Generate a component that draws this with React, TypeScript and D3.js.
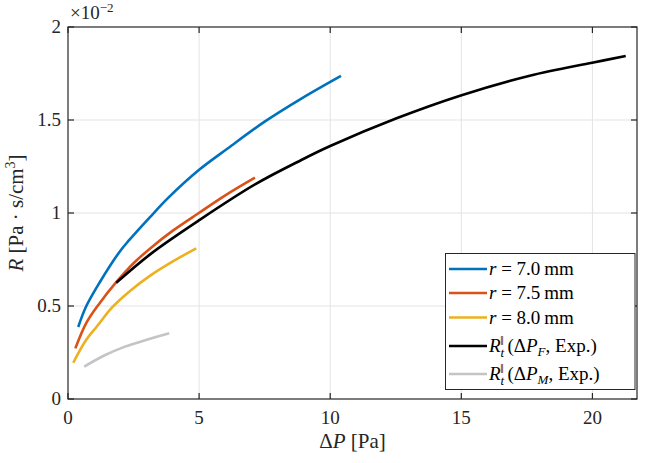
import * as d3 from "d3";
import { useEffect, useRef } from "react";

// Values (x: ΔP in Pa, y: R in 1e-2 Pa·s/cm³)
const blueX = [0.39, 0.69, 1.2, 1.97, 2.34, 3.11, 3.81, 4.99, 6.1, 7.5, 8.9, 10.41];
const blueY = [0.387, 0.497, 0.625, 0.792, 0.855, 0.975, 1.08, 1.231, 1.348, 1.491, 1.615, 1.737];
const redX = [0.28, 0.69, 1.2, 1.84, 2.5, 3.18, 4.0, 4.99, 6.0, 7.13];
const redY = [0.272, 0.407, 0.514, 0.628, 0.73, 0.815, 0.905, 1.0, 1.095, 1.19];
const yellowX = [0.2, 0.69, 1.1, 1.7, 2.4, 3.15, 4.0, 4.89];
const yellowY = [0.195, 0.317, 0.39, 0.495, 0.585, 0.665, 0.74, 0.81];
const blackX = [1.84, 3.18, 4.99, 7.15, 8.9, 10.0, 12.53, 14.98, 17.61, 19.99, 21.27];
const blackY = [0.625, 0.783, 0.96, 1.155, 1.285, 1.36, 1.509, 1.632, 1.738, 1.808, 1.844];
const grayX = [0.62, 1.4, 2.2, 3.0, 3.86];
const grayY = [0.174, 0.235, 0.283, 0.318, 0.353];

const xTicks = [0, 5, 10, 15, 20];
const yTicks = [0, 0.5, 1, 1.5, 2];
const seriesColors = ["#0072BD", "#D95319", "#EDB120", "#000000", "#c4c4c4"];
const radii = ["7.0", "7.5", "8.0"];
const expSubs = ["F", "M"];

const App = () => {
  const ref = useRef<SVGSVGElement>(null);

  useEffect(() => {
    if (ref && ref.current) ref.current.innerHTML = "";

    const width = 646;
    const height = 463;
    const m = { left: 68, top: 27, right: 637, bottom: 399 };
    const font = "'Liberation Serif', 'DejaVu Serif', serif";
    const axisColor = "#262626";

    const x = d3.scaleLinear().domain([0, 21.7]).range([m.left, m.right]);
    const y = d3.scaleLinear().domain([0, 2]).range([m.bottom, m.top]);

    const svg = d3.select(ref.current)
      .attr("width", width)
      .attr("height", height)
      .attr("viewBox", [0, 0, width, height])
      .attr("font-family", font);

    svg.append("rect").attr("width", width).attr("height", height).attr("fill", "#fff");

    // grid
    const grid = svg.append("g").attr("stroke", "#e3e3e3").attr("stroke-width", 1);
    grid.selectAll("line.gx")
      .data(xTicks.slice(1))
      .join("line")
        .attr("class", "gx")
        .attr("x1", d => x(d)).attr("x2", d => x(d))
        .attr("y1", m.top).attr("y2", m.bottom);
    grid.selectAll("line.gy")
      .data(yTicks.slice(1, -1))
      .join("line")
        .attr("class", "gy")
        .attr("y1", d => y(d)).attr("y2", d => y(d))
        .attr("x1", m.left).attr("x2", m.right);

    // series
    const series = [
      [blueX, blueY], [redX, redY], [yellowX, yellowY], [blackX, blackY], [grayX, grayY],
    ];
    const line = d3.line<[number, number]>()
      .x(d => x(d[0]))
      .y(d => y(d[1]))
      .curve(d3.curveCatmullRom.alpha(0.5));
    series.forEach(([xs, ys], i) => {
      const pts = xs.map((v, j) => [v, ys[j]] as [number, number]);
      svg.append("path")
        .attr("d", line(pts))
        .attr("fill", "none")
        .attr("stroke", seriesColors[i])
        .attr("stroke-width", 2.6)
        .attr("stroke-linejoin", "round");
    });

    // axes box + ticks (inside, all four sides)
    svg.append("rect")
      .attr("x", m.left).attr("y", m.top)
      .attr("width", m.right - m.left).attr("height", m.bottom - m.top)
      .attr("fill", "none").attr("stroke", axisColor).attr("stroke-width", 1.2);

    const tl = 6;
    const ticks = svg.append("g").attr("stroke", axisColor).attr("stroke-width", 1.2);
    xTicks.forEach(t => {
      ticks.append("line").attr("x1", x(t)).attr("x2", x(t)).attr("y1", m.bottom).attr("y2", m.bottom - tl);
      ticks.append("line").attr("x1", x(t)).attr("x2", x(t)).attr("y1", m.top).attr("y2", m.top + tl);
    });
    yTicks.forEach(t => {
      ticks.append("line").attr("y1", y(t)).attr("y2", y(t)).attr("x1", m.left).attr("x2", m.left + tl);
      ticks.append("line").attr("y1", y(t)).attr("y2", y(t)).attr("x1", m.right).attr("x2", m.right - tl);
    });

    const fs = 19;
    svg.append("g")
      .selectAll("text")
      .data(xTicks)
      .join("text")
        .attr("x", d => x(d))
        .attr("y", 424)
        .attr("text-anchor", "middle")
        .attr("font-size", fs)
        .attr("fill", axisColor)
        .text(d => String(d));
    svg.append("g")
      .selectAll("text")
      .data(yTicks)
      .join("text")
        .attr("x", m.left - 7)
        .attr("y", d => y(d) + 6)
        .attr("text-anchor", "end")
        .attr("font-size", fs)
        .attr("fill", axisColor)
        .text(d => String(d));

    // exponent
    const ex = svg.append("text").attr("x", m.left + 2).attr("y", 19).attr("font-size", fs).attr("fill", axisColor);
    ex.append("tspan").text("×10");
    ex.append("tspan").attr("dy", -7).attr("font-size", 13).text("−2");

    // x label
    const xl = svg.append("text").attr("x", (m.left + m.right) / 2).attr("y", 448)
      .attr("text-anchor", "middle").attr("font-size", 21).attr("fill", axisColor);
    xl.append("tspan").text("Δ");
    xl.append("tspan").attr("font-style", "italic").text("P");
    xl.append("tspan").text(" [Pa]");

    // y label
    const yl = svg.append("text")
      .attr("transform", `translate(23, ${(m.top + m.bottom) / 2}) rotate(-90)`)
      .attr("text-anchor", "middle").attr("font-size", 21).attr("fill", axisColor);
    yl.append("tspan").attr("font-style", "italic").text("R");
    yl.append("tspan").text(" [Pa · s/cm");
    yl.append("tspan").attr("dy", -8).attr("font-size", 14).text("3");
    yl.append("tspan").attr("dy", 8).text("]");

    // legend
    const lg = svg.append("g");
    lg.append("rect")
      .attr("x", 445.5).attr("y", 253.5).attr("width", 189.5).attr("height", 136)
      .attr("fill", "#fff").attr("stroke", axisColor).attr("stroke-width", 1);
    const rowY = [269, 293, 317.5, 346, 374];
    const lfs = 19;
    rowY.forEach((ry, i) => {
      lg.append("line")
        .attr("x1", 449).attr("x2", 487).attr("y1", ry).attr("y2", ry)
        .attr("stroke", seriesColors[i]).attr("stroke-width", 2.6);
      const t = lg.append("text").attr("x", 489).attr("y", ry + 6).attr("font-size", lfs).attr("fill", "#000");
      if (i < 3) {
        t.append("tspan").attr("font-style", "italic").text("r");
        t.append("tspan").text(` = ${radii[i]}\u2009mm`);
      } else {
        t.append("tspan").attr("font-style", "italic").text("R");
        t.append("tspan").attr("font-style", "italic").attr("font-size", 13).attr("dy", 5).text("t");
        t.append("tspan").attr("font-size", 12).attr("dx", -4).attr("dy", -12).text("‖");
        t.append("tspan").attr("dy", 7).text("\u2009(Δ");
        t.append("tspan").attr("font-style", "italic").text("P");
        t.append("tspan").attr("font-style", "italic").attr("font-size", 13).attr("dy", 4).text(expSubs[i - 3]);
        t.append("tspan").attr("dy", -4).text(", Exp.)");
      }
    });
  }, []);

  return <svg ref={ref} style={{ position: "absolute", left: 0, top: 0 }} />;
};

export default App;
